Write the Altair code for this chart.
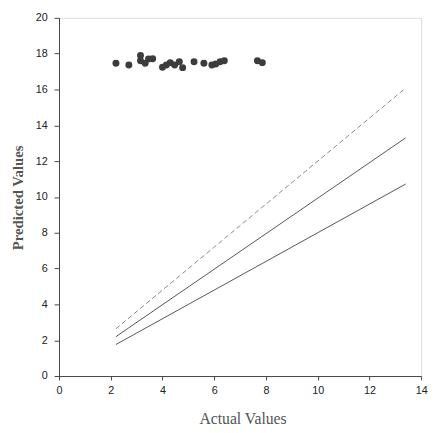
import altair as alt
import pandas as pd

# Scatter points (actual vs predicted)
actual = [2.2, 2.7, 3.15, 3.15, 3.33, 3.46, 3.62, 4.0, 4.15, 4.3, 4.47, 4.65, 4.78,
          5.22, 5.6, 5.91, 6.06, 6.23, 6.39, 7.67, 7.86]
predicted = [17.47, 17.37, 17.9, 17.6, 17.47, 17.7, 17.72, 17.24, 17.37, 17.5, 17.37,
             17.55, 17.22, 17.55, 17.47, 17.37, 17.42, 17.55, 17.6, 17.6, 17.5]

# Reference lines (endpoints)
line_x = [2.2, 13.4]
upper_y = [2.64, 16.08]
middle_y = [2.2, 13.3]
lower_y = [1.76, 10.72]

x_ticks = [0, 2, 4, 6, 8, 10, 12, 14]
y_ticks = [0, 2, 4, 6, 8, 10, 12, 14, 16, 18, 20]

pts = pd.DataFrame({"x": actual, "y": predicted})
lines = pd.DataFrame({
    "x": line_x * 3,
    "y": upper_y + middle_y + lower_y,
    "s": ["upper"] * 2 + ["middle"] * 2 + ["lower"] * 2,
})

xscale = alt.Scale(domain=[0, 14], nice=False, zero=False)
yscale = alt.Scale(domain=[0, 20], nice=False, zero=False)

xaxis = alt.Axis(title="Actual Values", values=x_ticks, tickCount=8, grid=False,
                 tickSize=4, labelPadding=5, labelFontSize=11, labelColor="#222",
                 labelFont="Liberation Sans", titleFont="Liberation Serif",
                 titleFontSize=16, titleFontWeight="normal", titleColor="#555",
                 titleX=187, titleY=43, titleBaseline="middle", titleAlign="center",
                 domainColor="#444", tickColor="#444", labelFlush=False,
                 labelOverlap=False)
yaxis = alt.Axis(title="Predicted Values", values=y_ticks, tickCount=11, grid=False,
                 tickSize=5, labelPadding=7, labelFontSize=11, labelColor="#222",
                 labelFont="Liberation Sans", titleFont="Liberation Serif",
                 titleFontSize=15, titleFontWeight="bold", titleColor="#555",
                 titleX=-42, titleY=183, titleAngle=270, titleBaseline="middle",
                 titleAlign="center", domainColor="#444", tickColor="#444",
                 labelFlush=False, labelOverlap=False)

X = alt.X("x:Q", scale=xscale, axis=xaxis)
Y = alt.Y("y:Q", scale=yscale, axis=yaxis)

base_lines = alt.Chart(lines)

upper = base_lines.transform_filter(alt.datum.s == "upper").mark_line(
    color="#888", strokeWidth=1, strokeDash=[5, 3]
).encode(x=X, y=Y)

middle = base_lines.transform_filter(alt.datum.s == "middle").mark_line(
    color="#555", strokeWidth=1
).encode(x=X, y=Y)

lower = base_lines.transform_filter(alt.datum.s == "lower").mark_line(
    color="#555", strokeWidth=1
).encode(x=X, y=Y)

dots = alt.Chart(pts).mark_circle(size=50, color="#3c3c3c", opacity=1).encode(x=X, y=Y)

chart = alt.layer(upper, middle, lower, dots).properties(
    width=369, height=365,
    autosize=alt.AutoSizeParams(type="none"),
    padding={"left": 52, "top": 6, "right": 8, "bottom": 54},
).configure_view(stroke="#444", strokeWidth=1).configure(background="white")

chart.save("out.html", embed_options={"renderer": "svg", "actions": False})
